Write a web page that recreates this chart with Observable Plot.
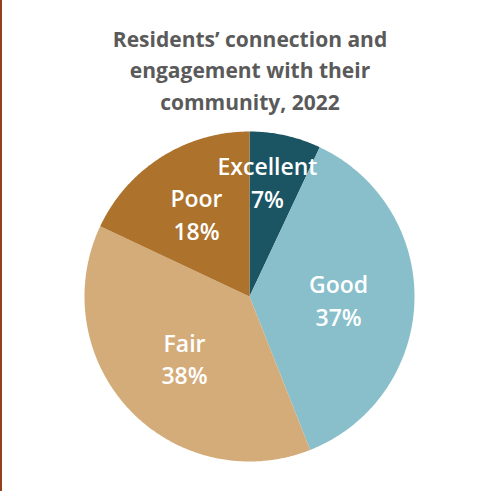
<!DOCTYPE html>
<html>
<head>
<meta charset="utf-8">
<script src="https://cdn.jsdelivr.net/npm/d3@7"></script>
<script src="https://cdn.jsdelivr.net/npm/@observablehq/plot@0.6"></script>
<style>
  html, body { margin: 0; padding: 0; background: #fff; }
  #wrap { position: relative; width: 501px; height: 491px; overflow: hidden; }
  #edge { position: absolute; left: 0; top: 0; width: 2px; height: 491px; background: #94401f; }
</style>
</head>
<body>
<div id="wrap"><div id="chart"></div><div id="edge"></div></div>
<script>
const title = "Residents’ connection and\nengagement with their\ncommunity, 2022";
const categories = ["Excellent", "Good", "Fair", "Poor"];
const shares = [7, 37, 38, 18];
const colors = ["#1b5563", "#88bfcb", "#d4ac7a", "#ad722b"];

const rows = categories.map((c, i) => ({category: c, value: shares[i]}));
const total = d3.sum(shares);
const arcs = d3.pie().value(d => d.value).sort(null).startAngle(0).endAngle(2 * Math.PI)(rows);

// slice outlines in unit coordinates (angle measured clockwise from top)
const slicePts = [];
for (const a of arcs) {
  const n = Math.max(8, Math.ceil((a.endAngle - a.startAngle) / 0.01));
  slicePts.push({category: a.data.category, x: 0, y: 0});
  for (let k = 0; k <= n; k++) {
    const t = a.startAngle + (a.endAngle - a.startAngle) * k / n;
    slicePts.push({category: a.data.category, x: Math.sin(t), y: Math.cos(t)});
  }
}

const labels = arcs.map(a => {
  const frac = a.data.value / total;
  const small = frac < 0.1;
  const ang = a.startAngle + (a.endAngle - a.startAngle) * (small ? 0.35 : 0.5);
  const r = small ? 0.71 : frac < 0.2 ? 0.6 : 0.54;
  return {
    category: a.data.category,
    x: r * Math.sin(ang),
    y: r * Math.cos(ang),
    text: `${a.data.category}\n${a.data.value}%`
  };
});

const chart = Plot.plot({
  width: 501,
  height: 491,
  margin: 0,
  x: {domain: [-1, 1], range: [84, 414], axis: null},
  y: {domain: [-1, 1], range: [461, 131], axis: null},
  color: {domain: categories, range: colors},
  style: {background: "#fff"},
  marks: [
    Plot.line(slicePts, {x: "x", y: "y", z: "category", fill: "category", stroke: "none"}),
    Plot.text(labels, {
      x: "x", y: "y", text: "text", fill: "#fff",
      fontSize: 23, lineHeight: 1.43, lineAnchor: "middle",
      fontFamily: "'Open Sans', sans-serif", fontWeight: 600
    }),
    Plot.text([title], {
      frameAnchor: "top", text: d => d, dx: -1, dy: 24,
      lineAnchor: "top", lineHeight: 1.5,
      fill: "#5a5a5a", fontSize: 21, fontWeight: 700,
      fontFamily: "'Open Sans', sans-serif"
    })
  ]
});
document.getElementById("chart").appendChild(chart);
</script>
</body>
</html>
